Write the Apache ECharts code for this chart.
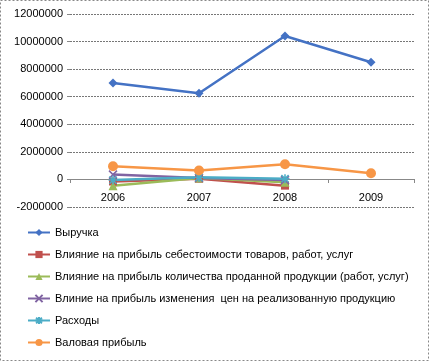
<!DOCTYPE html>
<html><head><meta charset="utf-8">
<script src="https://cdn.jsdelivr.net/npm/echarts@6/dist/echarts.min.js"></script>
<style>html,body{margin:0;padding:0;background:#fff}#c{width:429px;height:361px}</style>
</head><body><div id="c"></div>
<script>
const categories = ['2006','2007','2008','2009'];
const seriesNames = [
  'Выручка',
  'Влияние на прибыль себестоимости товаров, работ, услуг',
  'Влияние на прибыль количества проданной продукции (работ, услуг)',
  'Влиние на прибыль изменения  цен на реализованную продукцию',
  'Расходы',
  'Валовая прибыль'
];
const revenue = [7000000, 6250000, 10400000, 8500000];
const costEffect = [-150000, 50000, -450000, null];
const qtyEffect = [-450000, 100000, -200000, null];
const priceEffect = [350000, 100000, -50000, null];
const expenses = [-50000, 150000, 50000, null];
const grossProfit = [950000, 650000, 1100000, 450000];
const yTicks = { min: -2000000, max: 12000000, interval: 2000000 };

const colors = ['#4472C4','#C0504D','#9BBB59','#8064A2','#4BACC6','#F79646'];
const symbols = ['diamond','rect','triangle','path://M0,0L10,10M10,0L0,10','path://M5,0L5,10M0,5L10,5M1,1L9,9M9,1L1,9','circle'];
const sizes = [9,8,9,8,9,10];
const dataList = [revenue, costEffect, qtyEffect, priceEffect, expenses, grossProfit];

const series = dataList.map((d,i)=>({
  name: seriesNames[i], type:'line', data:d, symbol: symbols[i], symbolSize: sizes[i],
  lineStyle:{color:colors[i], width:2.5},
  itemStyle:{color:colors[i], borderColor: colors[i], borderWidth: (i===3||i===4)?1.5:0},
  z: i===0?3:2
}));

const chart = echarts.init(document.getElementById('c'));
chart.setOption({
  animation:false,
  color: colors,
  textStyle:{fontFamily:'Liberation Sans'},
  grid:{left:70, right:15, top:14, bottom:154},
  xAxis:{type:'category', data:categories, boundaryGap:true, offset:-28,
    axisLine:{onZero:false, lineStyle:{color:'#888', width:1}},
    axisTick:{show:true, length:4, lineStyle:{color:'#888'}},
    axisLabel:{color:'#000', fontSize:11, margin:13}},
  yAxis:{type:'value', min:yTicks.min, max:yTicks.max, interval:yTicks.interval,
    axisLine:{show:false}, axisTick:{show:true, length:3, lineStyle:{color:'#888'}},
    splitLine:{lineStyle:{color:'#777', type:[2,1], width:1}},
    axisLabel:{color:'#000', fontSize:11, margin:7, formatter: v => String(v)}},
  legend:{orient:'vertical', left:22, top:222, itemGap:11, itemWidth:22, itemHeight:9,
    textStyle:{fontSize:11, color:'#000', fontFamily:'Liberation Sans'},
    data: seriesNames},
  graphic:[{type:'rect', shape:{x:0.5,y:0.5,width:428,height:360}, style:{fill:'none', stroke:'#888', lineDash:[2,2], lineWidth:1}, silent:true}],
  series: series
});
</script></body></html>
